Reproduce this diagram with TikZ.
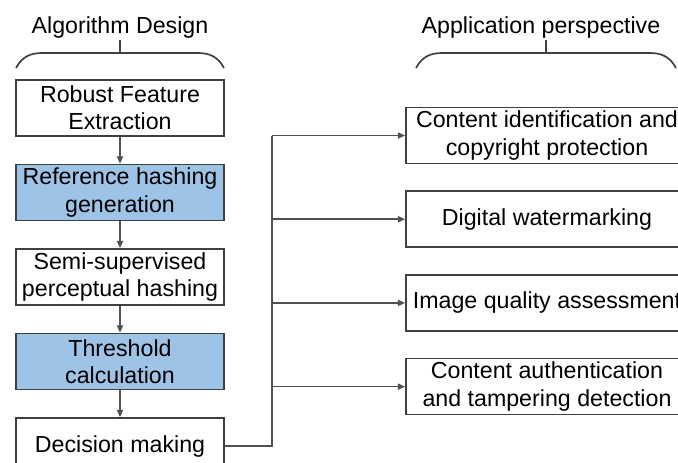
\documentclass[tikz,border=0pt]{standalone}
\usepackage{fontspec}
\setmainfont{Liberation Sans}
\usetikzlibrary{arrows.meta,positioning}
\definecolor{boxblue}{HTML}{9DC3E6}
\definecolor{edgegray}{HTML}{404040}
\definecolor{linegray}{HTML}{505050}
\tikzset{
  blk/.style={draw=edgegray,line width=1.2pt,align=center,font=\fontsize{16.5}{19.4}\selectfont,
              minimum height=1.4cm,inner sep=2pt,fill=white},
  algo/.style={blk,minimum width=5.2cm},
  appl/.style={blk,minimum width=7.05cm},
  hl/.style={fill=boxblue},
  title/.style={font=\fontsize{16.5}{19.4}\selectfont,anchor=base},
  brace/.style={line width=1.2pt,edgegray},
  lnk/.style={line width=1.2pt,linegray},
  arr/.style={lnk,-{Triangle[length=1.8mm,width=1.5mm]}},
}
\begin{document}
\begin{tikzpicture}[x=0.025cm,y=-0.025cm]
  \clip (0,0) rectangle (678,462);
  % algorithm design
  \node[title] (tAlg) at (120,33) {Algorithm Design};
  \draw[brace] (16,68) .. controls (22,57) and (30,53) .. (42,53) -- (198,53)
               .. controls (210,53) and (218,57) .. (224,68);
  \draw[brace] (120,53) -- (120,40);
  \node[algo] (feat) at (120,108) {Robust Feature\\Extraction};
  \node[algo,hl,below=0.67cm of feat] (ref) {Reference hashing\\generation};
  \node[algo,below=0.67cm of ref] (semi) {Semi-supervised\\perceptual hashing};
  \node[algo,hl,below=0.67cm of semi] (thr) {Threshold\\calculation};
  \node[algo,below=0.67cm of thr] (dec) {Decision making};
  \foreach \a/\b in {feat/ref,ref/semi,semi/thr,thr/dec}
    \draw[arr] (\a) -- (\b);
  % application perspective
  \node[title] (tApp) at (541,33) {Application perspective};
  \draw[brace] (416,68) .. controls (422,57) and (430,53) .. (442,53) -- (650,53)
               .. controls (662,53) and (670,57) .. (676,68);
  \draw[brace] (546,53) -- (546,40);
  \node[appl] (app1) at (547,135.5) {Content identification and\\copyright protection};
  \node[appl,below=0.65cm of app1] (app2) {Digital watermarking};
  \node[appl,below=0.65cm of app2] (app3) {Image quality assessment};
  \node[appl,below=0.65cm of app3] (app4) {Content authentication\\and tampering detection};
  % links
  \coordinate[right=1.18cm of dec.east] (bus);
  \draw[lnk] (dec.east) -- (bus) -- (bus |- app1.west);
  \foreach \n in {app1,app2,app3,app4}
    \draw[arr] (bus |- \n.west) -- (\n.west);
\end{tikzpicture}
\end{document}
